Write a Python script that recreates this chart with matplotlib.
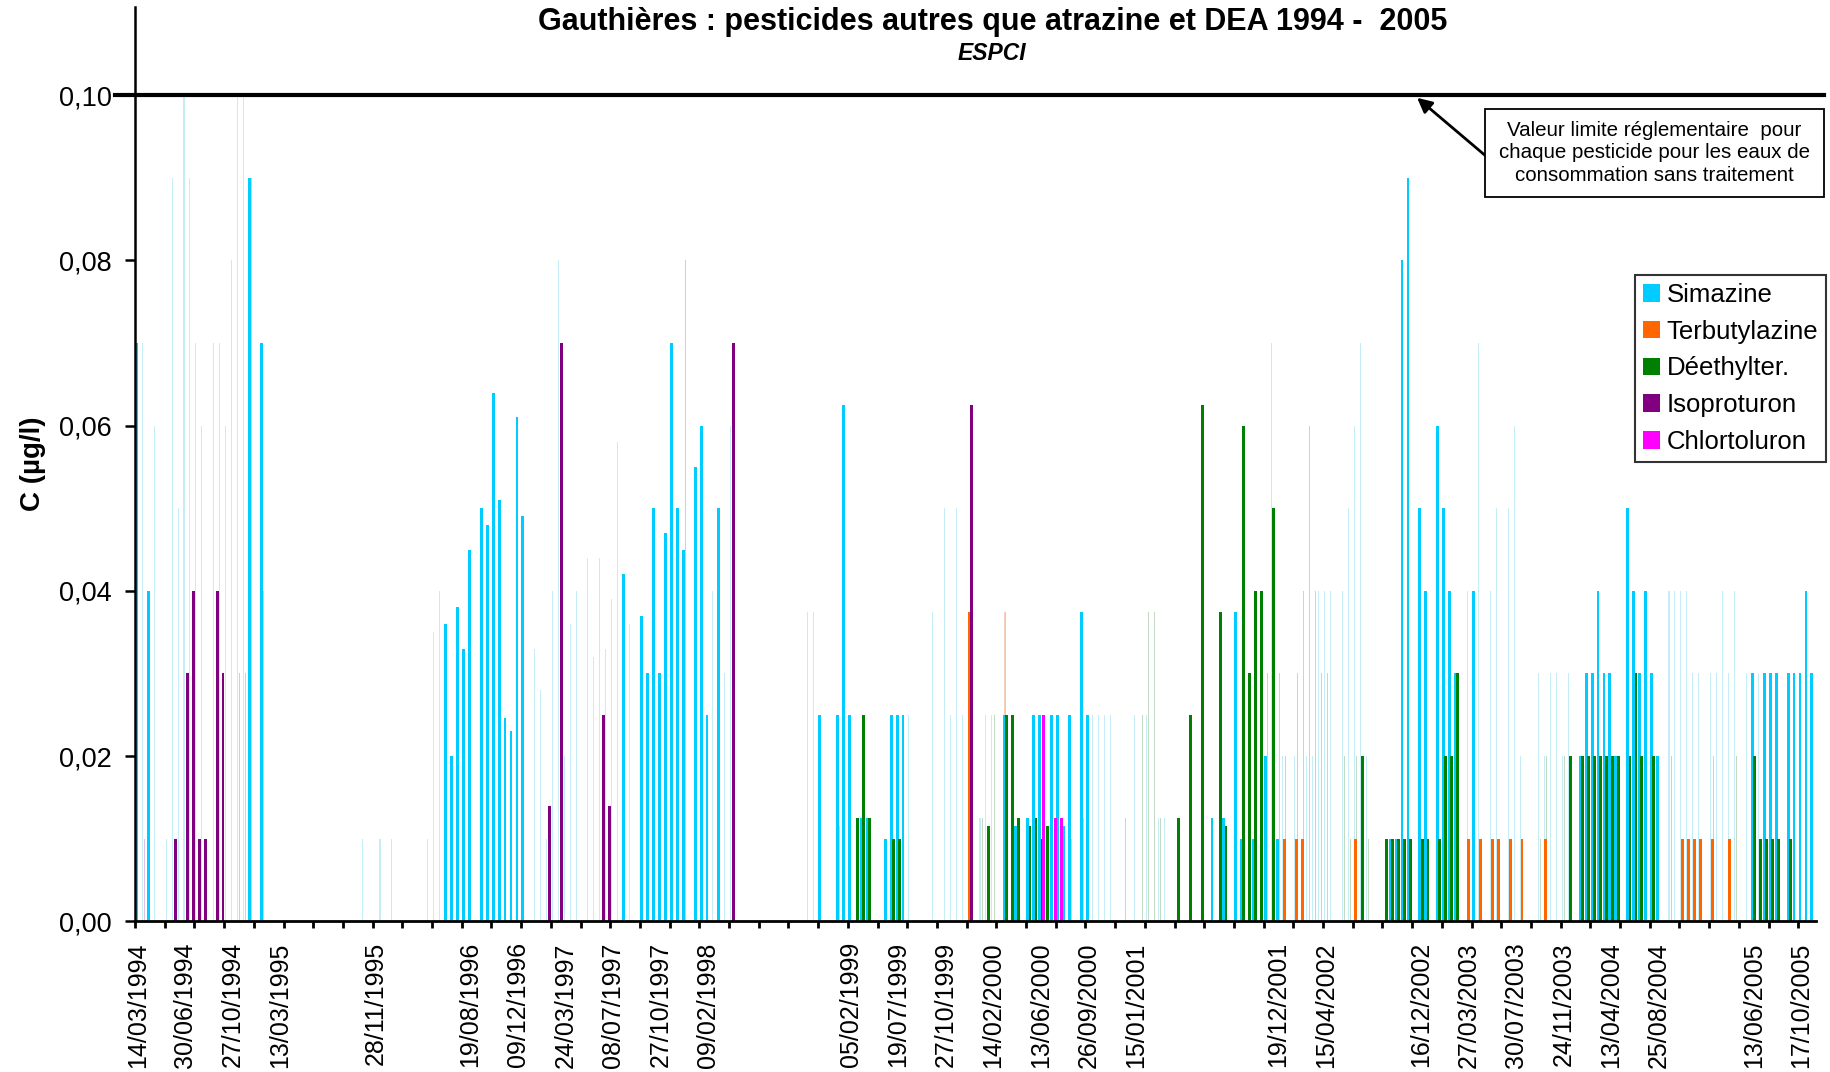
import numpy as np
import matplotlib.pyplot as plt
from matplotlib.patches import Patch, Rectangle

plt.rcParams['font.family'] = ['Liberation Sans', 'DejaVu Sans']

n_samples = 283

# one label every 8 samples (blank where the sheet had none)
label_dates = ['14/03/1994', '30/06/1994', '27/10/1994', '13/03/1995', '', '28/11/1995', '',
               '19/08/1996', '09/12/1996', '24/03/1997', '08/07/1997', '27/10/1997', '09/02/1998',
               '', '', '05/02/1999', '19/07/1999', '27/10/1999', '14/02/2000', '13/06/2000',
               '26/09/2000', '15/01/2001', '', '', '19/12/2001', '15/04/2002', '', '16/12/2002',
               '27/03/2003', '30/07/2003', '24/11/2003', '13/04/2004', '25/08/2004', '',
               '13/06/2005', '17/10/2005']

# sample index -> concentration (µg/l)
simazine = {0: .07, 2: .04, 19: .09, 21: .07,
            52: .036, 53: .02, 54: .038, 55: .033, 56: .045, 58: .05, 59: .048, 60: .064,
            61: .051, 62: .0246, 63: .023, 64: .061, 65: .049,
            82: .042, 85: .037, 86: .03, 87: .05, 88: .03, 89: .047, 90: .07, 91: .05, 92: .045,
            94: .055, 95: .06, 96: .025, 98: .05,
            115: .025, 118: .025, 119: .0625, 120: .025, 122: .0125, 123: .0125, 126: .01,
            127: .025, 128: .025, 129: .025,
            146: .025, 148: .0115, 150: .0125, 151: .025, 152: .025, 154: .025, 155: .025,
            156: .0115, 157: .025, 159: .0375, 160: .025,
            181: .0125, 183: .0125, 185: .0375, 186: .01, 188: .01, 190: .02, 192: .01,
            211: .01, 212: .01, 213: .08, 214: .09, 216: .05, 217: .04, 219: .06, 220: .05,
            221: .04, 222: .03, 225: .04,
            243: .02, 244: .03, 245: .03, 246: .04, 247: .03, 248: .03, 249: .02, 251: .05,
            252: .04, 253: .03, 254: .04, 255: .03, 256: .02,
            272: .03, 274: .03, 275: .03, 276: .03, 278: .03, 279: .03, 280: .03, 281: .04, 282: .03}
terbutylazine = {140: .0375, 193: .01, 195: .01, 196: .01, 205: .01, 224: .01, 226: .01,
                 228: .01, 229: .01, 231: .01, 233: .01, 237: .01, 260: .01, 261: .01,
                 262: .01, 263: .01, 265: .01, 268: .01}
deethylter = {121: .0125, 122: .025, 123: .0125, 127: .01, 128: .01, 143: .0115, 146: .025,
              147: .025, 148: .0125, 150: .0115, 151: .0125, 152: .01, 153: .0115,
              175: .0125, 177: .025, 179: .0625, 182: .0375, 183: .0115, 186: .06, 187: .03,
              188: .04, 189: .04, 191: .05, 206: .02, 210: .01, 211: .01, 212: .01, 213: .01,
              214: .01, 216: .01, 217: .01, 219: .01, 220: .02, 221: .02, 222: .03,
              241: .02, 243: .02, 244: .02, 245: .02, 246: .02, 247: .02, 248: .02, 249: .02,
              251: .02, 252: .03, 253: .02, 255: .02, 272: .02, 273: .01, 274: .01, 275: .01,
              276: .01, 278: .01}
isoproturon = {6: .01, 8: .03, 9: .04, 10: .01, 11: .01, 13: .04, 14: .03, 69: .014, 71: .07,
               78: .025, 79: .014, 100: .07, 140: .0625}
chlortoluron = {152: .025, 154: .0125, 155: .0125}

# faint ghost bars visible in the scanned chart
ghost_cyan = {1: .07, 3: .06, 5: .01, 6: .09, 7: .05, 8: .10, 9: .09, 10: .07, 11: .06, 13: .07,
              14: .07, 15: .06, 16: .08, 17: .10, 18: .10, 38: .01, 41: .01, 43: .01, 49: .01,
              50: .035, 51: .04, 67: .033, 68: .028, 69: .01, 70: .04, 71: .08, 72: .02,
              73: .036, 74: .04, 76: .044, 77: .032, 78: .044, 79: .033, 80: .039, 81: .058,
              83: .036, 97: .04, 99: .03, 100: .06, 113: .0375, 114: .0375, 130: .025,
              134: .0375, 136: .05, 137: .025, 138: .05, 139: .025, 142: .0125, 143: .025,
              144: .025, 161: .025, 162: .025, 163: .025, 164: .025, 168: .025, 170: .025,
              172: .0125, 173: .0125, 191: .07, 193: .02, 195: .02, 197: .02, 198: .02,
              199: .04, 200: .04, 201: .04, 203: .04, 204: .05, 205: .06, 206: .07, 207: .02,
              224: .04, 226: .07, 228: .04, 229: .05, 231: .05, 232: .06, 233: .02, 236: .03,
              237: .02, 238: .03, 239: .03, 240: .02, 241: .03, 258: .04, 259: .04, 260: .04,
              261: .04, 262: .03, 263: .03, 265: .03, 266: .03, 267: .04, 268: .03, 269: .04,
              271: .03, 273: .03}
ghost_green = {142: .0125, 144: .025, 166: .0125, 169: .025, 170: .0375, 171: .0375,
               172: .0125, 190: .03, 192: .03, 193: .02, 195: .03, 196: .04, 197: .06,
               198: .04, 199: .03, 200: .03, 203: .02, 204: .01, 205: .02, 207: .01,
               236: .01, 237: .02, 240: .02, 258: .02, 265: .02, 269: .02}
ghost_pink = {1: .01, 17: .03, 18: .03, 19: .09, 21: .04, 92: .08, 118: .0115, 146: .0375,
              157: .01, 159: .0125, 169: .0125}
ghost_orange = {146: .0375}


def expand(d):
    arr = np.zeros(n_samples)
    for k, v in d.items():
        arr[k] = v
    return arr


x = np.arange(n_samples)

fig = plt.figure(figsize=(18.31, 10.72), dpi=100)
ax = fig.add_axes([0.07373, 0.14049, 0.9181, 0.8533])

# ghosts
for d, c, off in [(ghost_cyan, '#c4edf6', 0.25), (ghost_orange, '#f6d2bc', 0.45),
                  (ghost_pink, '#e2c2e2', 0.6), (ghost_green, '#c2dac2', 0.68)]:
    ax.bar(x + off, expand(d), width=0.18, color=c, linewidth=0, zorder=1)

series = [('Simazine', simazine, '#00CCFF', 0.30),
          ('Terbutylazine', terbutylazine, '#FF6600', 0.50),
          ('Déethylter.', deethylter, '#008000', 0.68),
          ('Isoproturon', isoproturon, '#800080', 0.82),
          ('Chlortoluron', chlortoluron, '#FF00FF', 1.00)]
for name, d, c, off in series:
    ax.bar(x + off, expand(d), width=0.48, color=c, linewidth=0, zorder=2)

ax.axhline(0.10, xmin=-0.012, xmax=1.005, color='black', lw=3, zorder=3, clip_on=False)

ax.set_xlim(0, n_samples)
ax.set_ylim(0, 0.1107)
ax.spines['top'].set_visible(False)
ax.spines['right'].set_visible(False)
ax.spines['left'].set_linewidth(1.8)
ax.spines['bottom'].set_linewidth(2)

ax.set_yticks(np.arange(0, 0.101, 0.02))
ax.set_yticklabels([f'{v:.2f}'.replace('.', ',') for v in np.arange(0, 0.101, 0.02)], fontsize=19.5)
ax.tick_params(axis='y', direction='out', length=7, width=1.8, pad=10)

ax.set_xticks(np.arange(0, n_samples, 5))
ax.set_xticklabels([])
ax.tick_params(axis='x', which='major', direction='out', length=5, width=2)
ax.set_xticks(np.arange(0, n_samples, 8) + 0.5, minor=True)
ax.set_xticklabels(label_dates, minor=True, rotation=90, fontsize=18)
ax.tick_params(axis='x', which='minor', length=0, pad=15)

ax.set_ylabel('C (µg/l)', fontsize=20, fontweight='bold', labelpad=9)

fig.text(0.542, 0.9795, 'Gauthières : pesticides autres que atrazine et DEA 1994 -  2005',
         ha='center', va='center', fontsize=22, fontweight='bold')
fig.text(0.542, 0.9505, 'ESPCI', ha='center', va='center', fontsize=16.5,
         fontweight='bold', fontstyle='italic')

# note box with arrow to the limit line
fig.patches.append(Rectangle((1485 / 1831, 1 - 197 / 1072), 339 / 1831, 88 / 1072,
                             transform=fig.transFigure, facecolor='white', edgecolor='black',
                             lw=1.3, zorder=5))
fig.text(1654.5 / 1831, 1 - 153 / 1072,
         'Valeur limite réglementaire  pour\nchaque pesticide pour les eaux de\nconsommation sans traitement',
         ha='center', va='center', fontsize=14.8, linespacing=1.25, zorder=6)
ax.annotate('', xy=(1415 / 1831, 1 - 96 / 1072), xycoords='figure fraction',
            xytext=(1487 / 1831, 1 - 157 / 1072), textcoords='figure fraction',
            arrowprops=dict(arrowstyle='-|>', color='black', lw=2, mutation_scale=22))

handles = [Patch(facecolor=c, edgecolor='none') for _, _, c, _ in series]
labels = ['Simazine', 'Terbutylazine', 'Déethylter.', 'Isoproturon', 'Chlortoluron']
leg = fig.legend(handles, labels, loc='upper right', bbox_to_anchor=(1826 / 1831, 1 - 275 / 1072),
                 fontsize=18.5, frameon=True, fancybox=False, borderpad=0.3, labelspacing=0.5,
                 handlelength=0.68, handleheight=0.68, handletextpad=0.25, borderaxespad=0)
leg.get_frame().set_edgecolor('black')
leg.get_frame().set_linewidth(1.5)

fig.savefig('out.png', dpi=100)
